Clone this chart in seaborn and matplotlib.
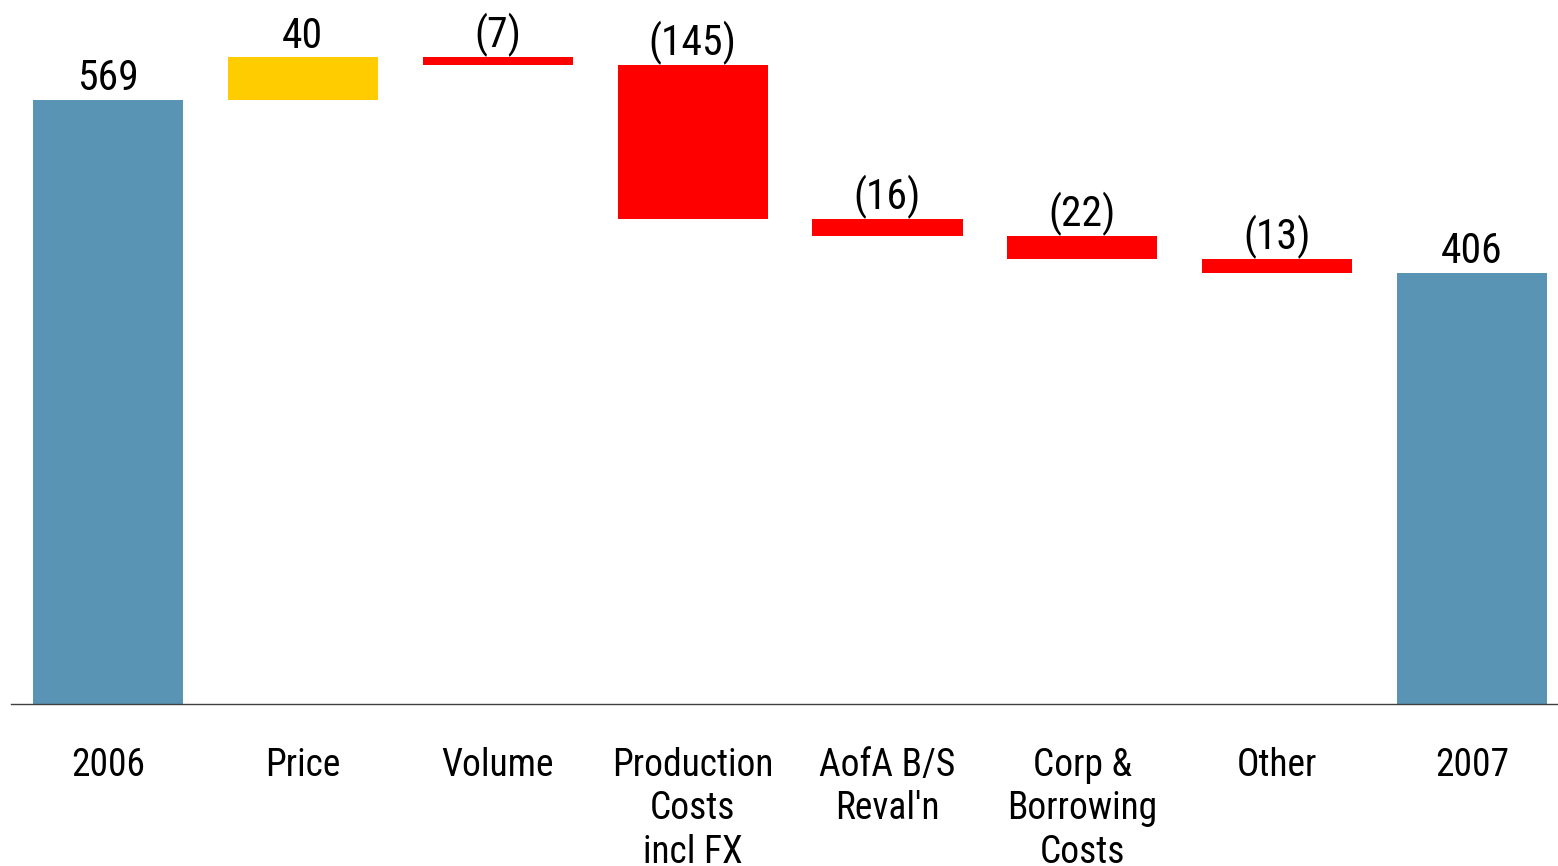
import numpy as np
import matplotlib
matplotlib.use("Agg")
import matplotlib.pyplot as plt
from matplotlib import font_manager
import seaborn as sns

# Waterfall components
categories = ["2006", "Price", "Volume", "Production\nCosts\nincl FX",
              "AofA B/S\nReval\u2032n", "Corp &\nBorrowing\nCosts", "Other", "2007"]
values = [569, 40, -7, -145, -16, -22, -13, 406]
is_total = [True, False, False, False, False, False, False, True]

total_color = "#5A94B4"
up_color = "#FFCC00"
down_color = "#FF0000"

sns.set_theme(style="white")
avail = {f.name for f in font_manager.fontManager.ttflist}
preferred = ["Liberation Sans Narrow", "Arial Narrow", "Roboto Condensed",
             "PT Sans Narrow", "Archivo Narrow", "Liberation Sans"]
family = [f for f in preferred if f in avail][:1] + ["DejaVu Sans"]
plt.rcParams["font.family"] = family

# Floating bar extents
bottoms, heights, colors = [], [], []
running = 0
for v, tot in zip(values, is_total):
    if tot:
        bottoms.append(0)
        heights.append(v)
        colors.append(total_color)
        running = v
    else:
        bottoms.append(min(running, running + v))
        heights.append(abs(v))
        colors.append(up_color if v > 0 else down_color)
        running += v

fig = plt.figure(figsize=(15.58, 8.66), dpi=100)
ax = fig.add_axes([10.55 / 1558, 162 / 866, 1559 / 1558, 704 / 866])

sns.barplot(x=categories, y=heights, hue=categories, palette=colors,
            legend=False, width=0.77, saturation=1, ax=ax, linewidth=0)
for patch, b in zip(ax.patches, bottoms):
    patch.set_y(b)

ax.set_xlim(-0.5, 7.5)
ax.set_ylim(0, 663)

for i, (v, b, h) in enumerate(zip(values, bottoms, heights)):
    txt = f"{v}" if (v > 0) else f"({abs(v)})"
    ax.annotate(txt, xy=(i, b + h), xytext=(0, 7), textcoords="offset points",
                ha="center", va="baseline", fontsize=30, color="black")

for s in ["top", "left", "right"]:
    ax.spines[s].set_visible(False)
ax.spines["bottom"].set_color("#404040")
ax.spines["bottom"].set_linewidth(1.0)
ax.set_yticks([])
ax.tick_params(axis="x", length=0, pad=31, labelsize=27, labelcolor="black")
for lbl in ax.get_xticklabels():
    lbl.set_linespacing(1.22)
ax.set_xlabel("")
ax.set_ylabel("")

fig.savefig("out.png", dpi=100)
